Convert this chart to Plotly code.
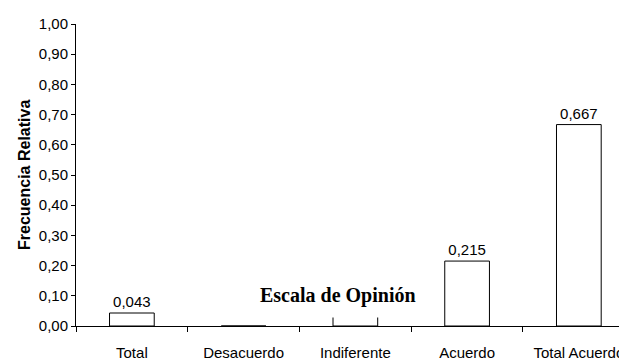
import plotly.graph_objects as go

categories = ["Total", "Desacuerdo", "Indiferente", "Acuerdo", "Total Acuerdo"]
values = [0.043, 0.0, 0.075, 0.215, 0.667]
label_visible = [True, False, False, True, True]  # Indiferente's label is hidden behind the axis title
y_ticks = [0.0, 0.1, 0.2, 0.3, 0.4, 0.5, 0.6, 0.7, 0.8, 0.9, 1.0]

labels = [("%.3f" % v).replace(".", ",") if show else "" for v, show in zip(values, label_visible)]

fig = go.Figure()
fig.add_trace(go.Bar(
    x=categories, y=values, text=labels, textposition="outside",
    textfont=dict(family="Liberation Sans, Arial", size=15, color="black"),
    marker=dict(color="white", line=dict(color="black", width=1)),
    width=0.4, cliponaxis=False,
))

# page body has an 8px default margin; size the figure to fill the visible window
fig.update_layout(
    width=619, height=353,
    margin=dict(l=68, r=0, t=16, b=35, autoexpand=False),
    paper_bgcolor="white", plot_bgcolor="white",
    separators=",.",
    showlegend=False,
    font=dict(family="Liberation Sans, Arial", size=15, color="black"),
    xaxis=dict(
        type="category", range=[-0.5, 4.431], automargin=False,
        showline=True, linecolor="black", linewidth=1,
        ticks="outside", ticklen=5, tickcolor="black", tickson="boundaries",
        ticklabelstandoff=13, showgrid=False, zeroline=False,
        tickfont=dict(size=15),
    ),
    yaxis=dict(
        range=[0, 1.0], tickvals=y_ticks, tickformat=".2f", automargin=False,
        showline=True, linecolor="black", linewidth=1,
        ticks="outside", ticklen=4, tickcolor="black",
        showgrid=False, zeroline=False, tickfont=dict(size=15),
    ),
    annotations=[
        dict(text="<b>Frecuencia Relativa</b>", xref="paper", yref="paper",
             x=-0.0944, y=0.5, xanchor="center", yanchor="middle", textangle=-90,
             showarrow=False, font=dict(family="Liberation Sans, Arial", size=16, color="black")),
        dict(text="<b>Escala de Opinión</b>", xref="paper", yref="paper",
             x=0.4755, y=0.101, xanchor="center", yanchor="middle",
             showarrow=False, bgcolor="white", borderpad=10,
             font=dict(family="Liberation Serif, Times New Roman", size=20, color="black")),
    ],
)

fig.write_html("out.html")
